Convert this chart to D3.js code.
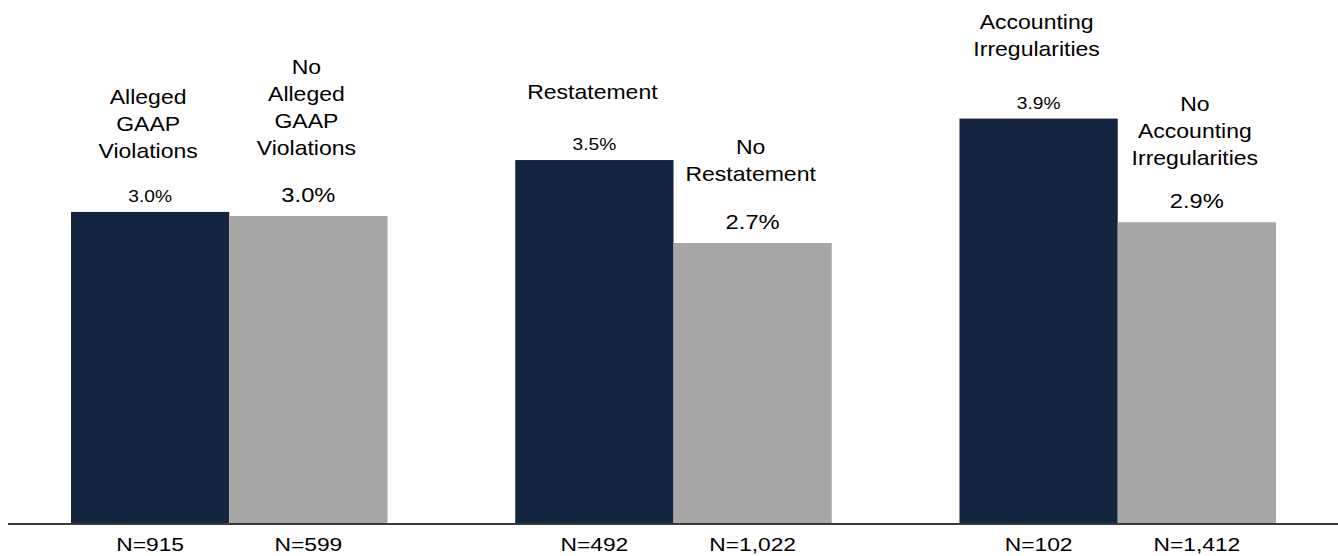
<!DOCTYPE html>
<html>
<head>
<meta charset="utf-8">
<script src="https://cdn.jsdelivr.net/npm/d3@7"></script>
<style>
  html, body { margin: 0; padding: 0; background: #fff; overflow: hidden; }
  svg { display: block; }
  text { font-family: "Liberation Sans", Arial, Helvetica, sans-serif; fill: #000; }
</style>
</head>
<body>
<svg id="chart" width="1338" height="556"></svg>
<script>
// Comparison groups
const groups = ["GAAP", "Restatement", "Irregularities"];
const seriesKeys = ["with", "without"];

// Caption lines above each bar
const withCaptions = [["Alleged", "GAAP", "Violations"], ["Restatement"], ["Accounting", "Irregularities"]];
const withoutCaptions = [["No", "Alleged", "GAAP", "Violations"], ["No", "Restatement"], ["No", "Accounting", "Irregularities"]];

// Percentages (%)
const withValues = [3.0, 3.5, 3.9];
const withoutValues = [2.96, 2.7, 2.9];

// Sample sizes
const withCounts = [915, 492, 102];
const withoutCounts = [599, 1022, 1412];

// ---- layout ----
const W = 1338, H = 556;
const baseY = 523;
const lineStep = 27;

const svg = d3.select("#chart");

const x0 = d3.scaleBand().domain(groups).range([71, 1276]).paddingInner(0.2875).paddingOuter(0);
const x1 = d3.scaleBand().domain(seriesKeys).range([0, x0.bandwidth()]).padding(0);
const y = d3.scaleLinear().domain([0, 4]).range([baseY, baseY - 4 * 103.7]);

const pct = d3.format(".1f");
const num = d3.format(",");

const seriesStyle = {
  with:    { fill: "#14253f", valueSize: 17, valueGap: 10, captionGap: [44, 51, 53] },
  without: { fill: "#a6a6a6", valueSize: 21, valueGap: 14, captionGap: [47, 48, 43] }
};

const rows = [];
groups.forEach((g, i) => {
  rows.push({ group: g, key: "with", i, value: withValues[i], n: withCounts[i], caption: withCaptions[i] });
  rows.push({ group: g, key: "without", i, value: withoutValues[i], n: withoutCounts[i], caption: withoutCaptions[i] });
});

const cx = d => x0(d.group) + x1(d.key) + x1.bandwidth() / 2;

// horizontally widened text, matching the wide lettering of the figure
function wideText(parent, str, px, py, size, sx) {
  parent.append("text")
    .attr("transform", `translate(${px},${py}) scale(${sx},1)`)
    .attr("text-anchor", "middle")
    .style("font-size", size + "px")
    .text(str);
}

// bars
svg.append("g").selectAll("rect")
  .data(rows)
  .join("rect")
  .attr("x", d => x0(d.group) + x1(d.key))
  .attr("width", x1.bandwidth())
  .attr("y", d => y(d.value))
  .attr("height", d => y(0) - y(d.value))
  .attr("fill", d => seriesStyle[d.key].fill);

// baseline
svg.append("line")
  .attr("x1", 8).attr("x2", W)
  .attr("y1", y(0) + 1).attr("y2", y(0) + 1)
  .attr("stroke", "#3a3a3a")
  .attr("stroke-width", 2);

const labels = svg.append("g");
rows.forEach(d => {
  const st = seriesStyle[d.key];
  const vy = y(d.value) - st.valueGap;
  wideText(labels, pct(d.value) + "%", cx(d), vy, st.valueSize, 1.13);

  const lastY = vy - st.captionGap[d.i];
  const n = d.caption.length;
  d.caption.forEach((line, k) => {
    wideText(labels, line, cx(d) - 2, lastY - (n - 1 - k) * lineStep, 20, 1.15);
  });

  wideText(labels, "N=" + num(d.n), cx(d), 551, 19, 1.2);
});
</script>
</body>
</html>
